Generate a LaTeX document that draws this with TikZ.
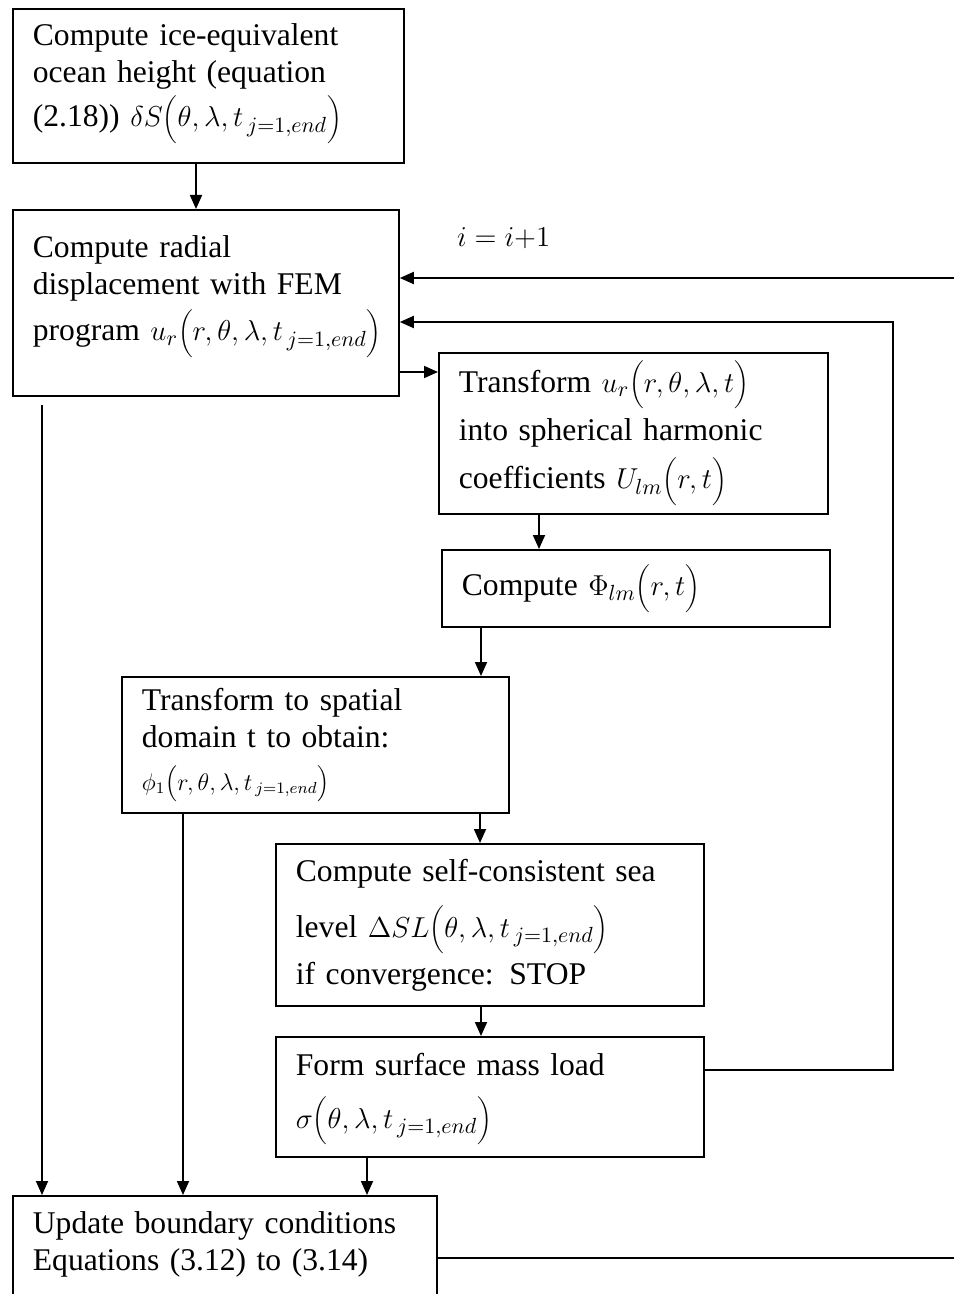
\documentclass[tikz,border=0pt]{standalone}
\usepackage{fontspec}
\setmainfont{Liberation Serif}
\usetikzlibrary{arrows.meta}

\tikzset{
  procbox/.style={draw, line width=0.9pt, anchor=north west, align=left,
    inner xsep=10pt, inner ysep=0pt, font=\fontsize{15.8}{18.5}\selectfont},
  arr/.style={line width=0.9pt, -{Triangle[length=7pt,width=6pt]}},
  plain/.style={line width=0.9pt}
}

\begin{document}
\begin{tikzpicture}[x=0.5pt,y=-0.5pt]
  \useasboundingbox (0,0) rectangle (954,1294);

  % process boxes
  \node[procbox, text width=175.5pt, minimum height=77pt] (icebox) at (12,8)
    {Compute ice-equivalent\\ ocean height (equation\\[2pt] \mbox{(2.18)) $\delta S\biggl(\theta,\lambda,t_{\,j=1,end}\biggr)$}\\[-8pt] \mbox{}};
  \node[procbox, text width=173pt, minimum height=93pt] (radial) at (12,209)
    {Compute radial\\ displacement with FEM\\[3pt] \mbox{program $u_r\biggl(r,\theta,\lambda,t_{\,j=1,end}\biggr)$}\\[-4pt] \mbox{}};
  \node[procbox, text width=174.5pt, minimum height=80.5pt] (harmonic) at (438,352)
    {\mbox{Transform $u_r\biggl(r,\theta,\lambda,t\biggr)$}\\[4pt] into spherical harmonic\\[4pt] \mbox{coefficients $U_{lm}\biggl(r,t\biggr)$}};
  \node[procbox, text width=174pt, minimum height=38.5pt] (potential) at (441,549)
    {Compute $\Phi_{lm}\biggl(r,t\biggr)$};
  \node[procbox, text width=173.5pt, minimum height=68pt] (spatial) at (121,676)
    {Transform to spatial\\ domain t to obtain:\\[3pt] {\fontsize{12}{14}\selectfont$\phi_1\Bigl(r,\theta,\lambda,t_{\,j=1,end}\Bigr)$}};
  \node[procbox, text width=194pt, minimum height=81pt] (sealevel) at (275,843)
    {Compute self-consistent sea\\[8pt] \mbox{level $\Delta SL\biggl(\theta,\lambda,t_{\,j=1,end}\biggr)$}\\[3pt] if convergence: STOP};
  \node[procbox, text width=194pt, minimum height=60pt] (massload) at (275,1036)
    {Form surface mass load\\[8pt] $\sigma\biggl(\theta,\lambda,t_{\,j=1,end}\biggr)$\\[-12pt] \mbox{}};
  \node[procbox, text width=192pt, inner ysep=8pt, text depth=45pt] (update) at (12,1195)
    {Update boundary conditions\\ Equations (3.12) to (3.14)};

  \node[anchor=west, font=\fontsize{15.8}{18.5}\selectfont] (iterlbl) at (450,238) {$i = i{+}1$};

  % free ends
  \coordinate (iterin) at (954,278);
  \coordinate (loopcorner) at (893,322);
  \coordinate (dispout) at (42,405);
  \coordinate (bcout) at (954,1258);

  % connectors
  \draw[arr] (icebox.south -| 196,0) -- (radial.north -| 196,0);
  \draw[arr] (iterin) -- (radial.east |- iterin);
  \draw[arr] (massload.east |- 0,1070) -| (loopcorner) -- (radial.east |- loopcorner);
  \draw[arr] (radial.east |- 0,372) -- (harmonic.west |- 0,372);
  \draw[arr] (harmonic.south -| 539,0) -- (potential.north -| 539,0);
  \draw[arr] (potential.south -| 481,0) -- (spatial.north -| 481,0);
  \draw[arr] (spatial.south -| 480,0) -- (sealevel.north -| 480,0);
  \draw[arr] (sealevel.south -| 481,0) -- (massload.north -| 481,0);
  \draw[arr] (massload.south -| 367,0) -- (update.north -| 367,0);
  \draw[arr] (spatial.south -| 183,0) -- (update.north -| 183,0);
  \draw[arr] (dispout) -- (update.north -| dispout);
  \draw[plain] (update.east |- bcout) -- (bcout);
\end{tikzpicture}
\end{document}
